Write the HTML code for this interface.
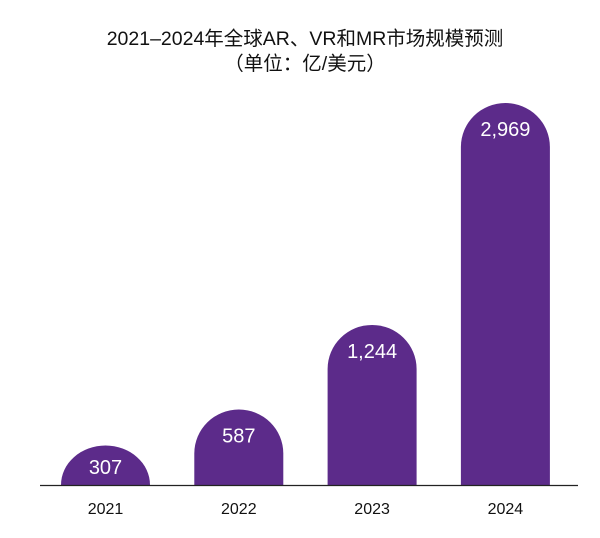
<!DOCTYPE html>
<html><head><meta charset="utf-8">
<style>
html,body{margin:0;padding:0;background:#fff;}
svg{display:block;font-family:"Liberation Sans","Noto Sans CJK SC",sans-serif;}
</style></head>
<body>
<svg id="chart" width="600" height="538" viewBox="0 0 600 538">
  <text x="305" y="45" text-anchor="middle" font-size="19.5" fill="#111">2021–2024年全球AR、VR和MR市场规模预测</text>
  <text x="305" y="70" text-anchor="middle" font-size="19.5" fill="#111">（单位：亿/美元）</text>
  <g id="bars"></g>
  <line x1="40" y1="485.5" x2="578" y2="485.5" stroke="#222" stroke-width="1.2"/>
</svg>
<script>
const categories = ["2021","2022","2023","2024"];
const values = [307,587,1244,2969];
const valueLabels = ["307","587","1,244","2,969"];

const baseY = 485, maxVal = 2969, maxH = 382;
const x0 = 61, step = 133.3, bw = 89;
function yScale(v){ return baseY - v/maxVal*maxH; }
function xScale(i){ return x0 + i*step; }
const g = document.getElementById('bars');
const NS = "http://www.w3.org/2000/svg";
categories.forEach((c,i)=>{
  const x = xScale(i), top = yScale(values[i]), h = baseY - top;
  const r = Math.min(44, h);
  const p = document.createElementNS(NS,'path');
  p.setAttribute('d', `M${x},${baseY} L${x},${top+r} A${bw/2},${r} 0 0 1 ${x+bw/2},${top} A${bw/2},${r} 0 0 1 ${x+bw},${top+r} L${x+bw},${baseY} Z`);
  p.setAttribute('fill','#5c2b8a');
  
  
  g.appendChild(p);
  const t = document.createElementNS(NS,'text');
  t.setAttribute('x', x+bw/2);
  t.setAttribute('y', Math.min(top+33, baseY-11));
  t.setAttribute('text-anchor','middle');
  t.setAttribute('font-size','20');
  t.setAttribute('fill','#fff');
  t.textContent = valueLabels[i];
  
  
  g.appendChild(t);
  const l = document.createElementNS(NS,'text');
  l.setAttribute('x', x+bw/2);
  l.setAttribute('y', 514);
  l.setAttribute('text-anchor','middle');
  l.setAttribute('font-size','16');
  l.setAttribute('fill','#111');
  l.textContent = c;
  
  
  g.appendChild(l);
});
</script>
</body></html>
